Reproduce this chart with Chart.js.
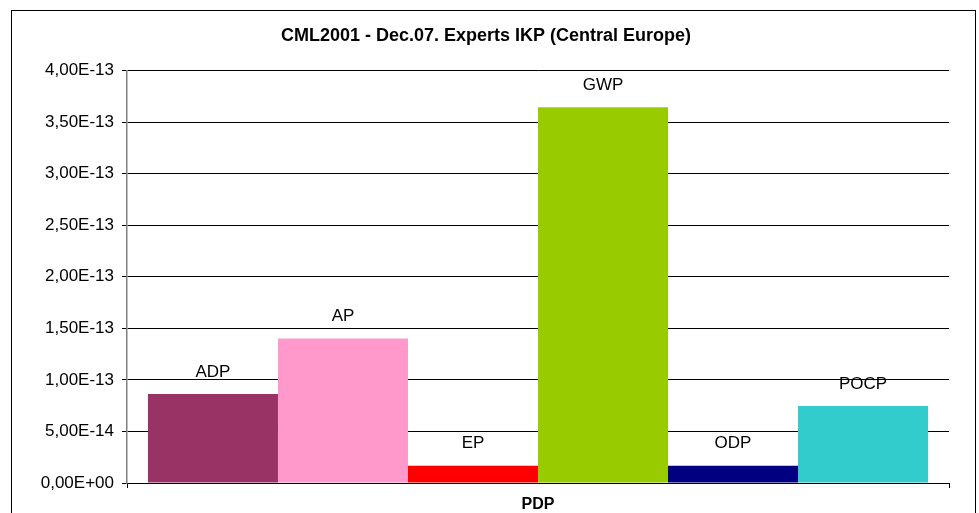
<!DOCTYPE html>
<html>
<head>
<meta charset="utf-8">
<script src="https://cdn.jsdelivr.net/npm/chart.js@4"></script>
<style>
html,body{margin:0;padding:0;background:#fff;}
#wrap{width:979px;height:513px;position:relative;}
</style>
</head>
<body>
<div id="wrap"><canvas id="c" width="979" height="513"></canvas></div>
<script>
const titleText = 'CML2001 - Dec.07. Experts IKP (Central Europe)';
const categories = ['PDP'];
const seriesNames = ['ADP', 'AP', 'EP', 'GWP', 'ODP', 'POCP'];
const seriesValues = [8.63e-14, 1.402e-13, 1.68e-14, 3.643e-13, 1.68e-14, 7.47e-14];
const seriesColors = ['#993366', '#FF99CC', '#FF0000', '#99CC00', '#000080', '#33CCCC'];
const yMin = 0, yMax = 4e-13, yStep = 5e-14;

function fmtTick(v) {
  const s = Number(v).toExponential(2);
  const m = s.split('e');
  let exp = parseInt(m[1], 10);
  const sign = exp < 0 ? '-' : '+';
  exp = Math.abs(exp);
  return m[0].replace('.', ',') + 'E' + sign + (exp < 10 ? '0' + exp : '' + exp);
}

const datasets = seriesNames.map((n, i) => ({
  label: n,
  data: [seriesValues[i]],
  backgroundColor: seriesColors[i],
  borderWidth: 0,
  barPercentage: 1.0,
  categoryPercentage: 0.949
}));

const frame = {
  id: 'frame',
  beforeDraw(chart) {
    const ctx = chart.ctx;
    ctx.save();
    ctx.fillStyle = '#fff';
    ctx.fillRect(0, 0, chart.width, chart.height);
    ctx.strokeStyle = '#000';
    ctx.lineWidth = 1;
    ctx.strokeRect(11.5, 10.5, 964, 600);
    ctx.font = 'bold 18px "Liberation Sans", Arial, sans-serif';
    ctx.fillStyle = '#000';
    ctx.textAlign = 'center';
    ctx.textBaseline = 'middle';
    ctx.fillText(titleText, 486, 36);
    ctx.restore();
  }
};

const barLabels = {
  id: 'barLabels',
  afterDatasetsDraw(chart) {
    const ctx = chart.ctx;
    ctx.save();
    ctx.font = '17px "Liberation Sans", Arial, sans-serif';
    ctx.fillStyle = '#000';
    ctx.textAlign = 'center';
    ctx.textBaseline = 'middle';
    chart.data.datasets.forEach((ds, i) => {
      const meta = chart.getDatasetMeta(i);
      meta.data.forEach(el => {
        ctx.fillText(ds.label, el.x, el.y - 22);
      });
    });
    ctx.restore();
  }
};

new Chart(document.getElementById('c'), {
  type: 'bar',
  data: { labels: categories, datasets: datasets },
  plugins: [frame, barLabels],
  options: {
    responsive: false,
    animation: false,
    layout: { padding: { left: 0, right: 30, top: 70.5, bottom: 0 } },
    plugins: {
      legend: { display: false },
      tooltip: { enabled: false },
      title: { display: false }
    },
    scales: {
      x: {
        grid: { display: true, offset: true, drawOnChartArea: false, drawTicks: true, tickLength: 5, color: '#000' },
        border: { display: true, color: '#000', width: 1 },
        ticks: {
          color: '#000',
          padding: 7,
          font: { family: '"Liberation Sans", Arial, sans-serif', size: 16, weight: 'bold' }
        },
        afterFit(s) { s.height = 30; }
      },
      y: {
        min: yMin, max: yMax,
        grid: { color: '#000', lineWidth: 1, drawTicks: true, tickLength: 5, tickColor: '#000' },
        border: { display: true, color: '#808080', width: 1.5 },
        ticks: {
          stepSize: yStep,
          color: '#000',
          padding: 8,
          font: { family: '"Liberation Sans", Arial, sans-serif', size: 17 },
          callback: v => fmtTick(v)
        },
        afterFit(s) { s.width = 127; }
      }
    }
  }
});
</script>
</body>
</html>
